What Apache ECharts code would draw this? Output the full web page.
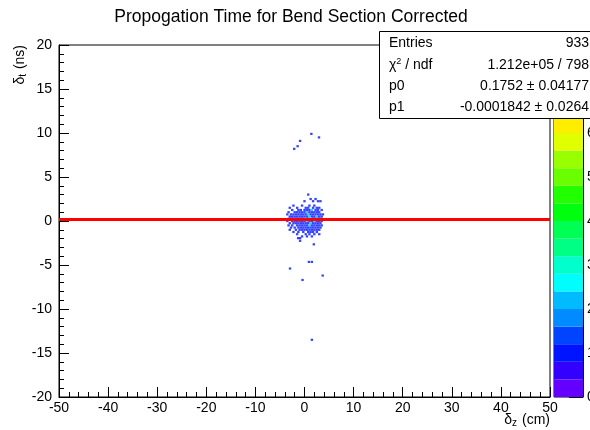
<!DOCTYPE html>
<html><head><meta charset="utf-8">
<script src="https://cdn.jsdelivr.net/npm/echarts@6/dist/echarts.min.js"></script>
<style>html,body{margin:0;padding:0;background:#fff}#c{width:590px;height:430px}</style>
</head><body><div id="c"></div>
<script>
const titleText = 'Propogation Time for Bend Section Corrected';
const xRange = [-50, 50], xStep = 10;
const yRange = [-20, 20], yStep = 5;
const zRange = [0, 8], zStep = 1;
const zBandWidth = 0.4;
// ROOT pretty palette, 20 contours
const bandColors = ['#6300ff','#3300ff','#0014ff','#0044ff','#008bff','#00bbff','#00fffc','#00ffcc','#00ff85','#00ff55',
  '#00ff0e','#22ff00','#69ff00','#99ff00','#e0ff00','#ffee00','#ffa700','#ff7700','#ff3000','#ff0000'];
// [delta_z (cm), delta_t (ns), entries]
const cells = [
  [1.4,9.9,1],[2.95,9.5,1],[-0.9,9.1,1],[-1.4,8.5,1],[-2.1,8.2,1],
  [0.75,3.0,1],
  [1.25,2.5,1],[2.25,2.5,1],
  [1.75,2.25,1],[0.0,2.25,1],[3.25,2.25,1],[2.75,2.25,1],
  [-0.5,1.75,1],[1.0,1.75,1],[2.0,1.75,1],[-2.25,1.75,1],
  [-3.0,1.5,1],[-1.5,1.5,1],[0.25,1.5,1],[0.75,1.5,1],[1.75,1.5,1],[2.5,1.5,1],[3.0,1.5,1],
  [-2.5,1.25,1],[-1.25,1.25,1],[-0.75,1.25,1],[0.0,1.25,1],[0.5,1.25,1],[1.0,1.25,1],[1.5,1.25,2],[2.25,1.25,1],[2.75,1.25,1],[3.5,1.25,1],
  [-3.25,1.0,1],[-2.0,1.0,1],[-1.5,1.0,1],[-1.0,1.0,1],[-0.5,1.0,1],[0.0,1.0,1],[0.5,1.0,2],[1.0,1.0,1],[1.5,1.0,1],[2.0,1.0,1],[2.5,1.0,1],[3.0,1.0,1],
  [-3.5,0.75,1],[-2.75,0.75,1],[-2.25,0.75,1],[-1.75,0.75,1],[-1.25,0.75,1],[-0.75,0.75,1],[-0.25,0.75,1],[0.25,0.75,1],[0.75,0.75,2],[1.25,0.75,1],[1.75,0.75,1],[2.25,0.75,1],[2.75,0.75,1],[3.25,0.75,1],[3.75,0.75,1],
  [-3.0,0.5,1],[-2.5,0.5,1],[-2.0,0.5,1],[-1.5,0.5,1],[-1.0,0.5,1],[-0.5,0.5,1],[0.0,0.5,1],[0.5,0.5,1],[1.0,0.5,2],[1.5,0.5,1],[2.0,0.5,1],[2.5,0.5,2],[3.0,0.5,1],[3.5,0.5,1],
  [-3.25,0.25,1],[-2.75,0.25,1],[-2.25,0.25,1],[-1.75,0.25,1],[-1.25,0.25,1],[-0.75,0.25,1],[-0.25,0.25,1],[0.25,0.25,2],[0.75,0.25,1],[1.25,0.25,3],[1.75,0.25,1],[2.25,0.25,1],[2.75,0.25,1],[3.25,0.25,1],
  [-3.5,0.0,1],[-2.5,0.0,1],[-2.0,0.0,1],[-1.5,0.0,1],[-1.0,0.0,1],[-0.5,0.0,1],[0.0,0.0,1],[0.5,0.0,2],[1.0,0.0,1],[1.5,0.0,1],[2.0,0.0,2],[2.5,0.0,1],[3.0,0.0,1],[3.5,0.0,1],
  [-3.0,-0.25,1],[-2.25,-0.25,1],[-1.75,-0.25,1],[-1.25,-0.25,1],[-0.75,-0.25,1],[-0.25,-0.25,1],[0.25,-0.25,1],[0.75,-0.25,1],[1.25,-0.25,2],[1.75,-0.25,1],[2.25,-0.25,1],[2.75,-0.25,1],[3.25,-0.25,1],
  [-3.25,-0.5,1],[-2.5,-0.5,1],[-1.5,-0.5,1],[-1.0,-0.5,1],[-0.5,-0.5,1],[0.0,-0.5,1],[0.5,-0.5,1],[1.0,-0.5,2],[1.5,-0.5,1],[2.0,-0.5,1],[2.5,-0.5,1],[3.0,-0.5,1],[3.5,-0.5,1],
  [-2.75,-0.75,1],[-2.0,-0.75,1],[-1.25,-0.75,1],[-0.75,-0.75,1],[-0.25,-0.75,1],[0.25,-0.75,1],[0.75,-0.75,1],[1.25,-0.75,1],[1.75,-0.75,1],[2.25,-0.75,1],[2.75,-0.75,1],[3.25,-0.75,1],
  [-3.0,-1.0,1],[-1.75,-1.0,1],[-1.0,-1.0,1],[-0.5,-1.0,1],[0.0,-1.0,1],[0.5,-1.0,1],[1.0,-1.0,1],[1.5,-1.0,1],[2.0,-1.0,1],[2.5,-1.0,1],[3.0,-1.0,1],
  [-2.25,-1.25,1],[-1.25,-1.25,1],[-0.25,-1.25,1],[0.75,-1.25,1],[1.25,-1.25,1],[1.75,-1.25,1],[2.5,-1.25,1],
  [-1.5,-1.5,1],[0.25,-1.5,1],[1.0,-1.5,1],[2.0,-1.5,1],[3.0,-1.5,1],
  [-0.5,-1.75,1],[0.5,-1.75,1],[1.5,-1.75,1],
  [-1.3,-1.95,1],[-0.9,-1.95,1],[-0.9,-2.25,1],
  [1.9,-2.65,1],
  [0.9,-4.65,1],[1.5,-4.65,1],[-2.95,-5.4,1],[3.7,-6.2,1],[-0.4,-6.7,1],[1.5,-13.5,1]
];
const statsLabels = ['Entries', 'χ{sup|2} / ndf', 'p0', 'p1'];
const statsValues = ['933', '1.212e+05 / 798', '0.1752 ± 0.04177', '-0.0001842 ± 0.0264'];
const fitP0 = 0.1752, fitP1 = -0.0001842;
const xTitle = 'δ{sub|z} (cm)';
const yTitle = 'δ{sub|t} (ns)';

const FONT = '"Liberation Sans", Arial, Helvetica, sans-serif';
const chart = echarts.init(document.getElementById('c'), null, {renderer: 'canvas'});

const pieces = bandColors.map((c, j) => ({gte: zRange[0] + j * zBandWidth, lt: zRange[0] + (j + 1) * zBandWidth, color: c}));
const bandSeries = bandColors.map((c, j) => ({
  type: 'bar', xAxisIndex: 1, yAxisIndex: 1, stack: 'cb', data: [zBandWidth],
  barWidth: '100%', itemStyle: {color: c}, silent: true, animation: false
}));

const fitLine = [[xRange[0], fitP0 + fitP1 * xRange[0]], [xRange[1], fitP0 + fitP1 * xRange[1]]];

const statsGraphics = [];
const rowY = [43, 65, 86, 107];
statsGraphics.push({type: 'rect', shape: {x: 379.5, y: 31.5, width: 230, height: 87}, style: {fill: '#fff', stroke: '#000', lineWidth: 1}, z: 100});
statsLabels.forEach((t, i) => {
  statsGraphics.push({type: 'text', x: 389, y: rowY[i], z: 101, style: {text: t, font: '14px ' + FONT, fill: '#000', textAlign: 'left', textVerticalAlign: 'middle',
    rich: {sup: {fontSize: 9, fontFamily: 'Liberation Sans', verticalAlign: 'top', padding: [0, 0, 6, 0]}}}});
  statsGraphics.push({type: 'text', x: 589, y: rowY[i], z: 101, style: {text: statsValues[i], font: '14px ' + FONT, fill: '#000', textAlign: 'right', textVerticalAlign: 'middle'}});
});

chart.setOption({
  animation: false,
  backgroundColor: '#fff',
  textStyle: {fontFamily: FONT},
  grid: [
    {left: 59, top: 45, width: 491, height: 352, show: true, borderColor: '#000', borderWidth: 1, backgroundColor: 'transparent', containLabel: false, outerBoundsMode: 'none'},
    {left: 554, top: 45, width: 29, height: 352, show: true, borderColor: '#000', borderWidth: 1, backgroundColor: 'transparent', containLabel: false, outerBoundsMode: 'none'}
  ],
  xAxis: [
    {type: 'value', gridIndex: 0, min: xRange[0], max: xRange[1], interval: xStep,
      axisLine: {show: true, onZero: false, lineStyle: {color: '#000', width: 1}},
      axisTick: {show: true, inside: true, length: 10, lineStyle: {color: '#000'}},
      minorTick: {show: true, splitNumber: 5, length: 5, lineStyle: {color: '#000'}},
      splitLine: {show: false},
      axisLabel: {show: true, color: '#000', fontSize: 14, fontFamily: FONT, margin: 4, showMinLabel: true, showMaxLabel: true}},
    {type: 'category', gridIndex: 1, data: ['z'], show: false, boundaryGap: true}
  ],
  yAxis: [
    {type: 'value', gridIndex: 0, min: yRange[0], max: yRange[1], interval: yStep,
      axisLine: {show: true, onZero: false, lineStyle: {color: '#000', width: 1}},
      axisTick: {show: true, inside: true, length: 10, lineStyle: {color: '#000'}},
      minorTick: {show: true, splitNumber: 5, length: 5, lineStyle: {color: '#000'}},
      splitLine: {show: false},
      axisLabel: {show: true, color: '#000', fontSize: 14, fontFamily: FONT, margin: 7, showMinLabel: true, showMaxLabel: true}},
    {type: 'value', gridIndex: 1, position: 'right', min: zRange[0], max: zRange[1], interval: zStep,
      axisLine: {show: true, onZero: false, lineStyle: {color: '#000', width: 1}},
      axisTick: {show: true, inside: true, length: 14, lineStyle: {color: '#000'}},
      splitLine: {show: false},
      axisLabel: {show: true, color: '#000', fontSize: 14, fontFamily: FONT, margin: 4}}
  ],
  visualMap: {type: 'piecewise', show: false, seriesIndex: 0, dimension: 2, pieces: pieces},
  series: [
    {type: 'scatter', xAxisIndex: 0, yAxisIndex: 0, symbol: 'rect', symbolSize: [2.4, 2.2], data: cells, silent: true, z: 2},
    {type: 'line', xAxisIndex: 0, yAxisIndex: 0, data: fitLine, symbol: 'none', lineStyle: {color: '#ff0000', width: 3}, silent: true, z: 3},
    ...bandSeries
  ],
  graphic: [
    {type: 'text', x: 291, y: 17, style: {text: titleText, font: '17.5px ' + FONT, fill: '#000', textAlign: 'center', textVerticalAlign: 'middle'}},
    {type: 'text', x: 550, y: 420, style: {text: xTitle, font: '14px ' + FONT, fill: '#000', textAlign: 'right', textVerticalAlign: 'middle',
      rich: {sub: {fontSize: 10, fontFamily: 'Liberation Sans', verticalAlign: 'bottom', padding: [6, 1, 0, 0]}}}},
    {type: 'text', x: 20, y: 45, rotation: Math.PI / 2, style: {text: yTitle, font: '14px ' + FONT, fill: '#000', textAlign: 'right', textVerticalAlign: 'middle',
      rich: {sub: {fontSize: 10, fontFamily: 'Liberation Sans', verticalAlign: 'bottom', padding: [6, 1, 0, 0]}}}},
    ...statsGraphics
  ]
});
</script></body></html>
